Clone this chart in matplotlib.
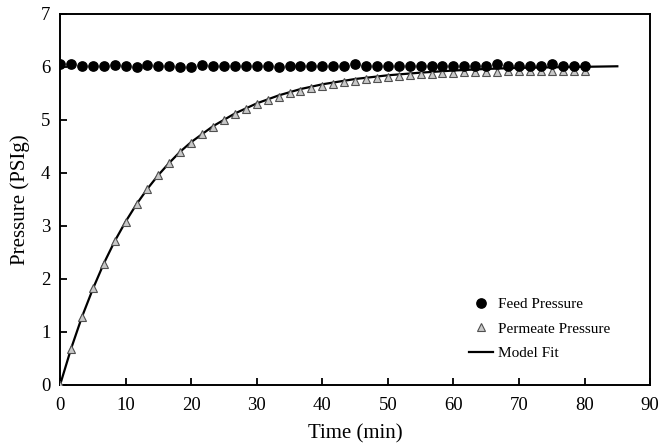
import matplotlib
matplotlib.use("Agg")
import matplotlib.pyplot as plt

# sampling every 100 s, in minutes
time_min = [i * 100 / 60 for i in range(49)]

feed_psig = [6.05, 6.05, 6.02, 6.02, 6.02, 6.04, 6.02, 6.00, 6.04, 6.02,
             6.02, 6.00, 6.00, 6.03, 6.02, 6.02, 6.02, 6.02, 6.02, 6.02,
             6.00, 6.02, 6.02, 6.02, 6.02, 6.02, 6.02, 6.05, 6.02, 6.02,
             6.02, 6.02, 6.02, 6.02, 6.02, 6.02, 6.02, 6.02, 6.02, 6.02,
             6.05, 6.02, 6.02, 6.02, 6.02, 6.05, 6.02, 6.02, 6.02]

permeate_psig = [0.00, 0.68, 1.29, 1.82, 2.29, 2.71, 3.08, 3.41, 3.70, 3.96,
                 4.19, 4.39, 4.57, 4.73, 4.87, 5.00, 5.11, 5.21, 5.29, 5.37,
                 5.44, 5.50, 5.55, 5.60, 5.64, 5.68, 5.71, 5.74, 5.77, 5.79,
                 5.81, 5.83, 5.84, 5.86, 5.87, 5.88, 5.89, 5.90, 5.90, 5.91,
                 5.91, 5.92, 5.92, 5.92, 5.93, 5.93, 5.93, 5.93, 5.93]

fit_time = [0, 1.67, 3.33, 5, 6.67, 8.33, 10, 11.67, 13.33, 15, 16.67, 18.33,
            20, 23.33, 26.67, 30, 33.33, 36.67, 40, 45, 50, 55, 60, 65, 70,
            75, 80, 85]
fit_psig = [0.00, 0.68, 1.28, 1.81, 2.29, 2.71, 3.08, 3.41, 3.70, 3.96, 4.19,
            4.40, 4.58, 4.88, 5.12, 5.31, 5.46, 5.58, 5.67, 5.77, 5.84, 5.89,
            5.93, 5.96, 5.98, 5.99, 6.00, 6.01]

plt.rcParams["font.family"] = ["Liberation Serif", "DejaVu Serif"]

fig = plt.figure(figsize=(6.6, 4.45), dpi=100)
ax = fig.add_axes([0.091, 0.135, 0.894, 0.834])

ax.plot(fit_time, fit_psig, color="black", lw=1.6, label="Model Fit", zorder=2)
ax.plot(time_min, permeate_psig, ls="none", marker="^", ms=6.2,
        mfc="#c8c8c8", mec="#505050", mew=0.8, label="Permeate Pressure", zorder=3)
ax.plot(time_min, feed_psig, ls="none", marker="o", ms=6.7,
        mfc="black", mec="black", label="Feed Pressure", zorder=4)

ax.set_xlim(0, 90)
ax.set_ylim(0, 7)
ax.set_xticks(range(0, 91, 10))
ax.set_yticks(range(0, 8))
ax.tick_params(direction="in", length=5, width=1.3, labelsize=13.5)
ax.tick_params(axis="x", pad=9)
ax.tick_params(axis="y", pad=7)
for s in ax.spines.values():
    s.set_linewidth(1.4)

ax.set_xlabel("Time (min)", fontsize=15, labelpad=7)
ax.set_ylabel("Pressure (PSIg)", fontsize=15, labelpad=8)

handles, labels = ax.get_legend_handles_labels()
ax.legend(handles[::-1], labels[::-1], loc="lower right",
          bbox_to_anchor=(0.955, 0.03), frameon=False, fontsize=11,
          handlelength=1.6, handletextpad=0.3, labelspacing=0.7)

fig.savefig("out.png", dpi=100)
